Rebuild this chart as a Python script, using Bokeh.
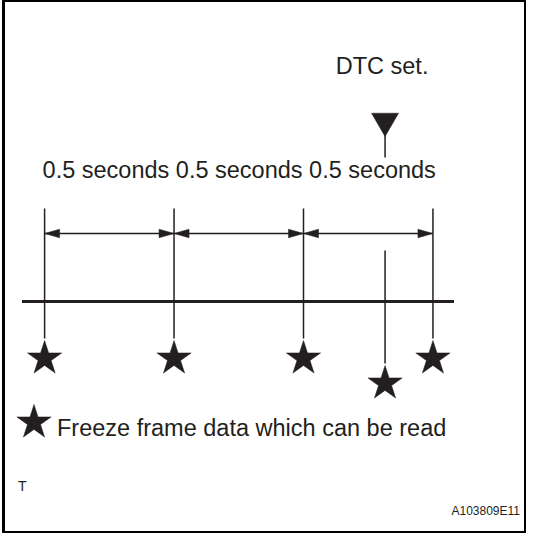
from bokeh.plotting import figure
from bokeh.models import Range1d
from bokeh.core.properties import value
from bokeh.embed import file_html
from bokeh.resources import INLINE

# ---- data ----
sample_times = [0.0, 0.5, 1.0, 1.5]          # seconds, freeze-frame samples
interval_labels = ["0.5 seconds", "0.5 seconds", "0.5 seconds"]
dtc_time = 1.315                              # seconds, moment the DTC is set
dtc_label = "DTC set."
legend_label = "Freeze frame data which can be read"
corner_label = "T"
figure_id = "A103809E11"

INK = "#231f20"
FONT = "Liberation Sans"

# layout scale (reference pixels per second)
PX_PER_S = 258.9
T0_PX = 43.6


def px_to_t(px):
    return (px - T0_PX) / PX_PER_S


p = figure(width=526, height=533, output_backend="svg", toolbar_location=None,
           x_range=Range1d(px_to_t(2.5), px_to_t(525.5)), y_range=Range1d(537, 4),
           min_border=0, min_border_left=3)
p.axis.visible = False
p.grid.visible = False
p.outline_line_color = "black"
p.outline_line_width = 3
p.background_fill_color = "white"

# time axis
p.segment(x0=[px_to_t(21)], y0=[305], x1=[px_to_t(453)], y1=[305],
          line_color=INK, line_width=3)

# sample verticals
p.segment(x0=sample_times, y0=[212] * len(sample_times),
          x1=sample_times, y1=[342] * len(sample_times),
          line_color=INK, line_width=1.5)

# DTC vertical
p.segment(x0=[dtc_time], y0=[254], x1=[dtc_time], y1=[367],
          line_color=INK, line_width=1.5)

# interval double arrows
ay = 237
L = 15 / PX_PER_S
W = 4.3
starts = sample_times[:-1]
ends = sample_times[1:]
p.segment(x0=starts, y0=[ay] * len(starts), x1=ends, y1=[ay] * len(ends),
          line_color=INK, line_width=1.5)
head_xs, head_ys = [], []
for a, b in zip(starts, ends):
    head_xs.append([a, a + L, a + L])
    head_ys.append([ay, ay - W, ay + W])
    head_xs.append([b, b - L, b - L])
    head_ys.append([ay, ay - W, ay + W])
p.patches(head_xs, head_ys, fill_color=INK, line_color=INK, line_width=0.5)

# interval labels (one line, as in the original)
p.text(x=[starts[0]], y=[173], text=[" ".join(interval_labels)],
       x_offset=-2,
       text_font=value(FONT), text_font_size="23.5px", text_color=INK,
       text_align="left", text_baseline="alphabetic")

# stars
p.scatter(x=sample_times, y=[362] * len(sample_times), marker="star",
          size=36, fill_color=INK, line_color=INK, line_width=0.5)
p.scatter(x=[dtc_time], y=[387], marker="star",
          size=36, fill_color=INK, line_color=INK, line_width=0.5)

# DTC marker
p.scatter(x=[dtc_time], y=[124.5], marker="inverted_triangle", size=27,
          fill_color=INK, line_color=INK, line_width=0.5)
p.segment(x0=[dtc_time], y0=[134], x1=[dtc_time], y1=[161],
          line_color=INK, line_width=1.5)
p.text(x=[dtc_time], y=[69], text=[dtc_label], x_offset=-3,
       text_font=value(FONT), text_font_size="23.5px", text_color=INK,
       text_align="center", text_baseline="alphabetic")

# legend
p.scatter(x=[px_to_t(33)], y=[426], marker="star", size=36,
          fill_color=INK, line_color=INK, line_width=0.5)
p.text(x=[px_to_t(56)], y=[431], text=[legend_label],
       text_font=value(FONT), text_font_size="23.5px", text_color=INK,
       text_align="left", text_baseline="alphabetic")

p.text(x=[px_to_t(17)], y=[489], text=[corner_label],
       text_font=value(FONT), text_font_size="14px", text_color=INK,
       text_align="left", text_baseline="alphabetic")
p.text(x=[px_to_t(519)], y=[514], text=[figure_id],
       text_font=value(FONT), text_font_size="12px", text_color=INK,
       text_align="right", text_baseline="alphabetic")

open("out.html", "w").write(file_html(p, INLINE))
